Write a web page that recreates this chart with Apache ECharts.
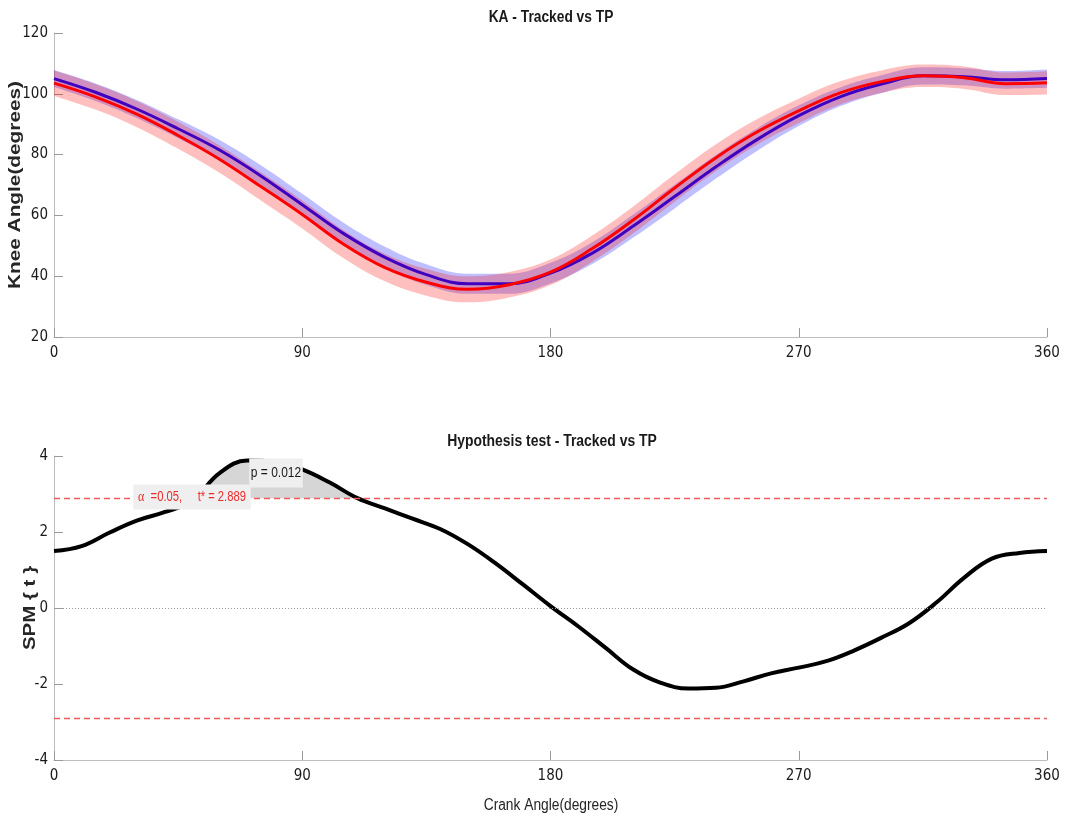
<!DOCTYPE html>
<html>
<head>
<meta charset="utf-8">
<title>KA - Tracked vs TP</title>
<script src="https://cdn.jsdelivr.net/npm/echarts@6/dist/echarts.min.js"></script>
<style>
html, body { margin: 0; padding: 0; background: #fff; }
#chart { width: 1065px; height: 824px; }
</style>
</head>
<body>
<div id="chart"></div>
<script>
// Top panel: knee angle (degrees), sampled every 15 deg of crank angle
const kneeCrank = [0, 15, 30, 45, 60, 75, 90, 105, 120, 135, 150, 165, 180,
  195, 210, 225, 240, 255, 270, 285, 300, 315, 330, 345, 360];
const trackedMean = [105, 100.5, 95, 88.5, 81.5, 73, 63.5, 54, 46.2, 40.5, 37.5, 37.5, 41,
  47.5, 56.5, 66.2, 76, 85, 92.8, 99, 103.2, 105.9, 105.6, 104.6, 105];
const trackedSD = [2.8, 2.9, 3.0, 3.1, 3.3, 3.5, 3.6, 3.6, 3.5, 3.4, 3.3, 3.3, 3.4,
  3.6, 3.8, 3.9, 3.9, 3.7, 3.4, 3.1, 2.9, 2.8, 2.8, 2.9, 3.0];
const tpMean = [103.5, 99, 93.3, 86.3, 78.5, 69.5, 60.3, 50.5, 42.8, 38, 35.7, 37.2, 41.3,
  49, 58.5, 69, 79, 87.5, 94.4, 100.3, 104, 105.9, 105.3, 103.3, 103.6];
const tpSD = [4.2, 4.2, 4.3, 4.4, 4.5, 4.6, 4.6, 4.6, 4.5, 4.4, 4.3, 4.2, 4.2,
  4.3, 4.4, 4.5, 4.4, 4.2, 4.0, 3.8, 3.7, 3.7, 3.7, 3.7, 3.8];

// Bottom panel: SPM{t} trajectory, sampled every 10 deg
const spmCrank = [0, 10, 20, 30, 40, 50, 60, 70, 80, 90, 100, 110, 120, 130, 140, 150, 160, 170, 180,
  190, 200, 210, 220, 230, 240, 250, 260, 270, 280, 290, 300, 310, 320, 330, 340, 350, 360];
const spmT = [1.50, 1.63, 1.98, 2.30, 2.52, 2.82, 3.55, 3.88, 3.85, 3.65, 3.30, 2.89, 2.62, 2.35, 2.08, 1.68, 1.18, 0.62, 0.05,
  -0.48, -1.05, -1.62, -1.97, -2.12, -2.10, -1.93, -1.72, -1.57, -1.40, -1.12, -0.78, -0.40, 0.15, 0.80, 1.30, 1.45, 1.50];
const tCrit = 2.889;
const alpha = 0.05;
const pValue = 0.012;

const NARROW = '"Liberation Sans Narrow", "DejaVu Sans Condensed", "Arial Narrow", sans-serif';
const SANS = '"Liberation Sans", Arial, sans-serif';

function pairs(xs, ys) {
  return xs.map((x, i) => [x, ys[i]]);
}

// lower edge + band height, stacked on the category axis
const trackedLow = trackedMean.map((m, i) => m - trackedSD[i]);
const trackedBand = trackedSD.map(s => 2 * s);
const tpLow = tpMean.map((m, i) => m - tpSD[i]);
const tpBand = tpSD.map(s => 2 * s);

// supra-threshold cluster, with crossing points interpolated
const cluster = [];
spmT.forEach((t, i) => {
  if (i > 0) {
    const t0 = spmT[i - 1];
    if ((t0 - tCrit) * (t - tCrit) < 0) {
      const f = (tCrit - t0) / (t - t0);
      const xc = spmCrank[i - 1] + f * (spmCrank[i] - spmCrank[i - 1]);
      cluster.push([xc, tCrit]);
      if (t < tCrit) cluster.push([xc, '-']);
    }
  }
  if (t >= tCrit) cluster.push([spmCrank[i], t]);
});

const axisLine = { onZero: false, lineStyle: { color: '#bdbdbd', width: 1 } };
const tickStyle = { color: '#9a9a9a' };
const labelStyle = { fontSize: 15, color: '#1a1a1a', fontFamily: NARROW };

function yAxisOf(gridIndex, min, max, interval) {
  return {
    type: 'value', gridIndex, min, max, interval,
    axisLine: Object.assign({ show: true }, axisLine),
    axisTick: { show: true, inside: true, length: 9, lineStyle: tickStyle },
    axisLabel: Object.assign({ margin: 6 }, labelStyle),
    splitLine: { show: false }
  };
}

// band layers sit above the blue mean line, under the red one (fill/plot order)
const bandSeries = (name, data, stack, color) => ({
  name, type: 'line', xAxisIndex: 0, yAxisIndex: 0, stack, data, z: 2,
  smooth: 0.4, symbol: 'none', silent: true,
  lineStyle: { width: 0, opacity: 0 },
  areaStyle: color ? { color, opacity: 1 } : undefined
});

function textEl(x, y, text, font, fill, extra) {
  return Object.assign({
    type: 'text', x, y, z: 100,
    style: { text, font, fill, align: 'center', verticalAlign: 'middle' }
  }, extra || {});
}

const chart = echarts.init(document.getElementById('chart'), null, { renderer: 'canvas' });

chart.setOption({
  animation: false,
  backgroundColor: '#ffffff',
  grid: [
    { left: 54, top: 33, width: 993, height: 304 },
    { left: 54, top: 456, width: 993, height: 304 }
  ],
  xAxis: [
    {
      type: 'category', gridIndex: 0, data: kneeCrank.map(String), boundaryGap: false,
      axisLine,
      axisTick: { inside: true, length: 9, interval: 5, lineStyle: tickStyle },
      axisLabel: Object.assign({ margin: 9, interval: 5 }, labelStyle),
      splitLine: { show: false }
    },
    {
      type: 'value', gridIndex: 1, min: 0, max: 360, interval: 90,
      axisLine,
      axisTick: { inside: true, length: 9, lineStyle: tickStyle },
      axisLabel: Object.assign({ margin: 9 }, labelStyle),
      splitLine: { show: false }
    }
  ],
  yAxis: [yAxisOf(0, 20, 120, 20), yAxisOf(1, -4, 4, 2)],
  series: [
    bandSeries('tracked-low', trackedLow, 'tracked', null),
    bandSeries('tracked-band', trackedBand, 'tracked', 'rgba(0, 0, 255, 0.25)'),
    {
      name: 'Tracked', type: 'line', xAxisIndex: 0, yAxisIndex: 0, z: 1,
      data: trackedMean, smooth: 0.4, symbol: 'none',
      lineStyle: { color: '#0000ff', width: 3 }
    },
    bandSeries('tp-low', tpLow, 'tp', null),
    bandSeries('tp-band', tpBand, 'tp', 'rgba(255, 0, 0, 0.25)'),
    {
      name: 'TP', type: 'line', xAxisIndex: 0, yAxisIndex: 0, z: 3,
      data: tpMean, smooth: 0.4, symbol: 'none',
      lineStyle: { color: '#ff0000', width: 3 }
    },
    {
      name: 'cluster', type: 'line', xAxisIndex: 1, yAxisIndex: 1,
      data: cluster, smooth: 0.4, symbol: 'none', silent: true, connectNulls: false,
      lineStyle: { width: 0, opacity: 0 },
      areaStyle: { color: '#d6d6d6', opacity: 1, origin: tCrit }
    },
    {
      name: 'SPM{t}', type: 'line', xAxisIndex: 1, yAxisIndex: 1,
      data: pairs(spmCrank, spmT), smooth: 0.4, symbol: 'none',
      lineStyle: { color: '#000000', width: 4 },
      markLine: {
        silent: true, symbol: 'none', label: { show: false },
        data: [
          { yAxis: 0, lineStyle: { color: '#9a9a9a', type: [1, 2], width: 1 } },
          { yAxis: tCrit, lineStyle: { color: '#f05a5a', type: [6, 4], width: 1.3 } },
          { yAxis: -tCrit, lineStyle: { color: '#f05a5a', type: [6, 4], width: 1.3 } }
        ]
      }
    }
  ],
  graphic: [
    textEl(551, 18, 'KA - Tracked vs TP', 'bold 16px ' + SANS, '#1a1a1a', { scaleX: 0.86 }),
    textEl(552, 442, 'Hypothesis test - Tracked vs TP', 'bold 16px ' + SANS, '#1a1a1a', { scaleX: 0.87 }),
    textEl(551, 806, 'Crank Angle(degrees)', '16px ' + SANS, '#262626', { scaleX: 0.86 }),
    textEl(16, 185, 'Knee Angle(degrees)', 'bold 16px ' + SANS, '#262626',
      { rotation: Math.PI / 2, scaleX: 1.3 }),
    textEl(31, 608, 'SPM { t }', 'bold 16px ' + SANS, '#262626',
      { rotation: Math.PI / 2, scaleX: 1.28 }),
    {
      type: 'text', x: 276, y: 473, z: 100, scaleX: 0.8,
      style: {
        text: 'p = ' + pValue.toFixed(3), font: '15px ' + SANS, fill: '#1a1a1a',
        align: 'center', verticalAlign: 'middle', backgroundColor: '#efefef', padding: [7, 2]
      }
    },
    {
      type: 'text', x: 192, y: 497, z: 100, scaleX: 0.8,
      style: {
        text: '{a|α}  =' + alpha.toFixed(2) + ',     t* = ' + tCrit.toFixed(3),
        font: '14px ' + SANS, fill: '#ee2b2b',
        align: 'center', verticalAlign: 'middle', backgroundColor: '#efefef', padding: [5, 6],
        rich: { a: { font: '15px "Liberation Serif", "DejaVu Serif", serif', fill: '#ee2b2b' } }
      }
    }
  ]
});
</script>
</body>
</html>
